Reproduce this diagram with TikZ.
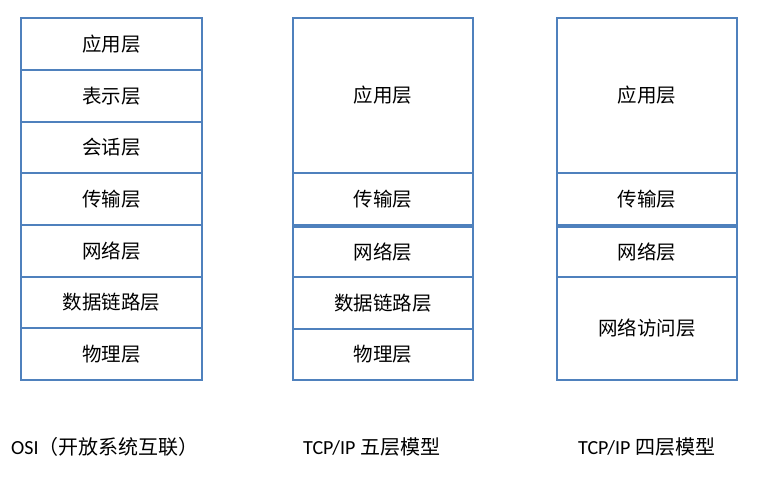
\documentclass[tikz,border=0pt]{standalone}
\usepackage{fontspec}
\setmainfont{Carlito}
\newfontfamily\cjk{Noto Sans CJK SC}
\definecolor{boxblue}{HTML}{4F81BD}
\tikzset{
  layer/.style={draw=boxblue, line width=2pt, rectangle, inner sep=0pt,
    font=\cjk\fontsize{19.5}{23}\selectfont, text=black},
  caption/.style={anchor=west, inner sep=0pt, font=\fontsize{20}{24}\selectfont, text=black}
}
\begin{document}
\begin{tikzpicture}[x=1pt,y=-1pt]
\useasboundingbox (0,0) rectangle (762,481);
% OSI
\node[layer, minimum width=181pt, minimum height=52pt] (o1) at (111.5,44) {应用层};
\node[layer, minimum width=181pt, minimum height=52pt] (o2) at (111.5,96) {表示层};
\node[layer, minimum width=181pt, minimum height=51pt] (o3) at (111.5,147.5) {会话层};
\node[layer, minimum width=181pt, minimum height=52pt] (o4) at (111.5,199) {传输层};
\node[layer, minimum width=181pt, minimum height=52pt] (o5) at (111.5,251) {网络层};
\node[layer, minimum width=181pt, minimum height=51pt] (o6) at (111.5,302.5) {数据链路层};
\node[layer, minimum width=181pt, minimum height=52pt] (o7) at (111.5,354) {物理层};
% TCP/IP five
\node[layer, minimum width=180pt, minimum height=155pt] (f1) at (383,95.5) {应用层};
\node[layer, minimum width=180pt, minimum height=52pt] (f2) at (383,199) {传输层};
\node[layer, minimum width=180pt, minimum height=50pt] (f3) at (383,252) {网络层};
\node[layer, minimum width=180pt, minimum height=52pt] (f4) at (383,303) {数据链路层};
\node[layer, minimum width=180pt, minimum height=51pt] (f5) at (383,354.5) {物理层};
% TCP/IP four
\node[layer, minimum width=180pt, minimum height=155pt] (t1) at (647,95.5) {应用层};
\node[layer, minimum width=180pt, minimum height=52pt] (t2) at (647,199) {传输层};
\node[layer, minimum width=180pt, minimum height=50pt] (t3) at (647,252) {网络层};
\node[layer, minimum width=180pt, minimum height=103pt] (t4) at (647,328.5) {网络访问层};
% captions
\node[caption] (c1) at (11,447) {OSI{\cjk （开放系统互联）}};
\node[caption] (c2) at (303,447) {TCP/IP {\cjk 五层模型}};
\node[caption] (c3) at (578,447) {TCP/IP {\cjk 四层模型}};
\end{tikzpicture}
\end{document}
